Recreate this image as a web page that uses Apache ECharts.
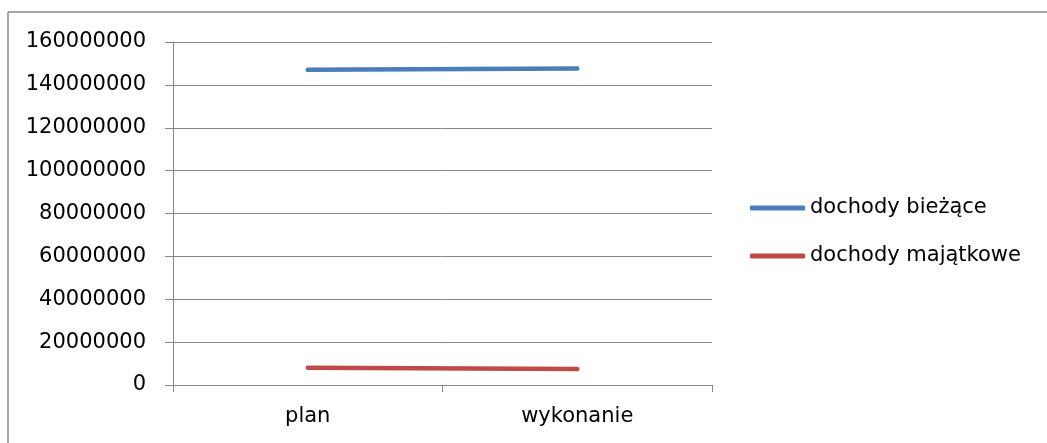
<!DOCTYPE html>
<html>
<head>
<meta charset="utf-8">
<script src="https://cdn.jsdelivr.net/npm/echarts@6/dist/echarts.min.js"></script>
<style>html,body{margin:0;padding:0;background:#fff;}#c{width:1047px;height:443px;}</style>
</head>
<body>
<div id="c"></div>
<script>
const categories = ['plan', 'wykonanie'];
const seriesNames = ['dochody bieżące', 'dochody majątkowe'];
const dochodyBiezace = [147000000, 147600000];
const dochodyMajatkowe = [8000000, 7500000];
const yMin = 0, yMax = 160000000, yStep = 20000000;

const FONT = 'DejaVu Sans';
const GRAY = '#868686';
const chart = echarts.init(document.getElementById('c'), null, {renderer: 'canvas'});
chart.setOption({
  animation: false,
  backgroundColor: '#fff',
  textStyle: {fontFamily: FONT},
  graphic: [
    {type: 'line', shape: {x1: 8, y1: 12, x2: 1047, y2: 12}, style: {stroke: '#888', lineWidth: 1.5}},
    {type: 'line', shape: {x1: 8, y1: 12, x2: 8, y2: 443}, style: {stroke: '#888', lineWidth: 1.5}}
  ],
  grid: {left: 173, right: 335, top: 42, bottom: 58},
  legend: {
    orient: 'vertical', left: 750, top: 196, padding: 0,
    itemWidth: 55, itemHeight: 5, itemGap: 24,
    icon: 'roundRect',
    textStyle: {fontFamily: FONT, fontSize: 21, color: '#000', lineHeight: 24, padding: [0,0,0,0]},
    data: seriesNames
  },
  xAxis: {
    type: 'category', data: categories, boundaryGap: true,
    axisLine: {lineStyle: {color: GRAY, width: 1}},
    axisTick: {show: true, length: 7, lineStyle: {color: GRAY}},
    axisLabel: {color: '#000', fontFamily: FONT, fontSize: 21, margin: 21}
  },
  yAxis: {
    type: 'value', min: yMin, max: yMax, interval: yStep,
    axisLine: {show: true, lineStyle: {color: GRAY, width: 1}},
    axisTick: {show: true, length: 8, lineStyle: {color: GRAY}},
    splitLine: {show: true, lineStyle: {color: GRAY, width: 1}},
    axisLabel: {color: '#000', fontFamily: FONT, fontSize: 21, margin: 27, padding: [3,0,0,0], formatter: v => String(v)}
  },
  series: [
    {name: seriesNames[0], type: 'line', data: dochodyBiezace, symbol: 'none', showSymbol: false,
     itemStyle: {color: '#4A7EBB'}, lineStyle: {color: '#4A7EBB', width: 4.5, cap: 'round'}},
    {name: seriesNames[1], type: 'line', data: dochodyMajatkowe, symbol: 'none', showSymbol: false,
     itemStyle: {color: '#BE4B48'}, lineStyle: {color: '#BE4B48', width: 4.5, cap: 'round'}}
  ]
});
</script>
</body>
</html>
